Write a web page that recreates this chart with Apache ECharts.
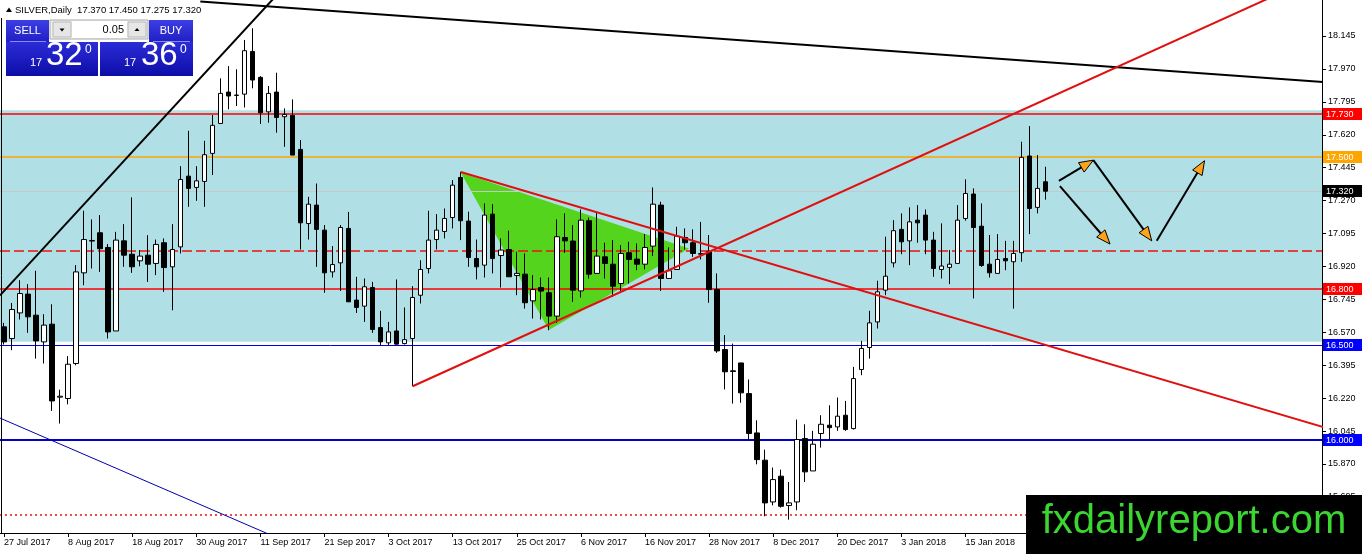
<!DOCTYPE html>
<html><head><meta charset="utf-8">
<script src="https://cdn.jsdelivr.net/npm/echarts@6/dist/echarts.min.js"></script>
<style>html,body{margin:0;padding:0;background:#fff;}#c{width:1362px;height:554px;}</style>
</head><body><div id="c"></div>
<script>
// ---- data ----
const opens  = [16.599,16.537,16.673,16.773,16.661,16.519,16.613,16.225,16.218,16.404,16.886,17.055,17.099,17.021,16.577,17.056,16.985,16.950,16.980,16.936,17.046,16.918,17.024,17.400,17.340,17.372,17.521,17.680,17.847,17.829,17.836,18.063,17.925,17.742,17.847,17.716,17.723,17.542,17.148,17.246,17.113,16.891,16.939,17.122,16.741,16.709,16.808,16.595,16.514,16.577,16.510,16.537,16.767,16.909,17.063,17.106,17.180,17.393,17.161,16.962,16.927,17.198,16.978,17.010,16.872,16.879,16.737,16.808,16.780,16.656,17.074,17.055,16.790,17.163,16.883,16.971,16.932,16.829,16.993,16.959,16.932,17.028,17.246,16.856,16.904,17.074,17.046,16.985,16.998,16.797,16.478,16.365,16.407,16.244,16.035,15.890,15.668,15.805,15.649,15.668,16.005,15.833,16.032,16.076,16.067,16.129,16.058,16.372,16.489,16.625,16.794,16.939,17.117,17.056,17.166,17.193,17.060,16.904,16.915,16.936,17.175,17.305,17.134,16.932,16.883,16.962,16.945,16.993,17.507,17.234,17.370];
const highs  = [16.620,16.726,16.847,16.826,16.897,16.666,16.719,16.265,16.443,16.927,17.216,17.170,17.193,17.039,17.104,17.145,17.287,17.007,17.086,17.063,17.069,17.145,17.453,17.641,17.453,17.588,17.725,17.920,17.985,17.968,18.124,18.186,17.932,17.879,17.950,17.760,17.808,17.592,17.290,17.361,17.140,17.028,17.140,17.210,16.865,16.856,16.838,16.684,16.625,16.851,16.702,16.815,16.953,17.216,17.198,17.228,17.379,17.423,17.211,17.063,17.255,17.251,17.069,17.110,16.998,16.989,16.874,16.861,16.861,17.170,17.202,17.140,17.223,17.180,17.205,17.046,17.060,17.033,17.051,17.042,17.092,17.340,17.264,17.021,17.131,17.122,17.117,17.157,17.087,16.883,16.555,16.510,16.407,16.319,16.102,15.946,15.851,15.840,15.774,16.106,16.081,16.046,16.129,16.182,16.223,16.205,16.386,16.524,16.684,16.844,17.078,17.166,17.202,17.234,17.246,17.223,17.104,17.149,17.007,17.246,17.383,17.335,17.255,17.087,17.092,17.056,17.056,17.583,17.666,17.512,17.450];
const lows   = [16.505,16.475,16.638,16.567,16.430,16.404,16.152,16.085,16.187,16.395,16.820,16.909,16.891,16.537,16.577,16.918,16.886,16.921,16.838,16.874,16.785,16.687,16.989,17.237,17.269,17.237,17.406,17.680,17.755,17.773,17.765,17.867,17.677,17.684,17.631,17.556,17.512,17.010,17.063,16.918,16.780,16.861,16.790,16.732,16.673,16.625,16.567,16.501,16.501,16.505,16.505,16.283,16.723,16.883,17.010,17.069,17.122,17.060,16.918,16.851,16.861,16.883,16.808,16.865,16.767,16.696,16.643,16.638,16.581,16.620,16.992,16.732,16.755,16.856,16.883,16.856,16.758,16.785,16.829,16.900,16.904,16.975,16.790,16.856,16.904,17.010,16.971,16.957,16.727,16.461,16.266,16.191,16.195,15.995,15.868,15.592,15.650,15.638,15.574,15.624,15.774,15.833,15.957,15.999,16.046,16.046,16.053,16.342,16.430,16.590,16.767,16.915,16.985,16.927,17.046,16.985,16.865,16.856,16.826,16.936,17.163,16.750,16.918,16.861,16.883,16.900,16.696,16.945,17.092,17.202,17.275];
const closes = [16.519,16.691,16.776,16.652,16.524,16.608,16.205,16.230,16.400,16.891,17.063,17.058,17.014,16.572,17.060,16.980,16.918,16.975,16.932,17.037,16.914,17.010,17.382,17.335,17.375,17.514,17.670,17.840,17.826,17.831,18.067,17.911,17.737,17.840,17.712,17.728,17.512,17.152,17.251,17.117,16.886,16.930,17.127,16.732,16.702,16.812,16.585,16.519,16.572,16.507,16.531,16.755,16.904,17.060,17.113,17.175,17.352,17.163,16.968,16.918,17.193,16.962,17.007,16.865,16.883,16.727,16.797,16.789,16.656,17.078,17.056,16.794,17.166,16.879,16.975,16.936,16.815,16.989,16.957,16.932,17.021,17.251,16.856,16.897,17.081,17.046,16.989,16.988,16.797,16.471,16.360,16.362,16.248,16.032,15.893,15.663,15.787,15.645,15.663,16.000,15.828,15.975,16.081,16.063,16.124,16.053,16.324,16.484,16.620,16.785,16.868,17.110,17.051,17.157,17.152,17.060,16.909,16.922,16.932,17.166,17.308,17.127,16.925,16.886,16.957,16.950,16.989,17.500,17.228,17.335,17.320];

const priceTicks = [15.695,15.870,16.045,16.220,16.395,16.570,16.745,16.920,17.095,17.270,17.445,17.620,17.795,17.970,18.145];
const levelPrices = [17.730, 17.500, 17.320, 17.000, 16.800, 16.500, 16.000, 15.600];
const zoneTop = 17.75, zoneBottom = 16.52;
const greenTriangle = [[57, 17.42], [68, 16.582], [85.5, 17.016]];
const trendBlackLeft = [[-0.5, 16.766], [34.5, 18.384]];
const trendBlackTop = [[24.5, 18.328], [164.75, 17.900]];
const trendBlueLow = [[-0.5, 16.114], [34.5, 15.470]];
const trendRedUp = [[51, 16.283], [160, 18.387]];
const trendRedDown = [[57, 17.422], [164.75, 16.065]];
const arrows = [
  [131.66, 17.375, 135.96, 17.485],
  [135.96, 17.485, 143.25, 17.056],
  [131.79, 17.347, 138.04, 17.039],
  [143.875, 17.056, 149.84, 17.482]
];
const headerText = 'SILVER,Daily  17.370 17.450 17.275 17.320';

// ---- styles for the level lines (same order as levelPrices) ----
const levelStyles = [
  {stroke: '#ff0000', width: 1.5, dash: null, tag: '#ff0000'},
  {stroke: '#ffa500', width: 1.5, dash: null, tag: '#ffa500'},
  {stroke: '#c8c8c8', width: 1, dash: null, tag: '#000000'},
  {stroke: '#ee1111', width: 1.5, dash: [10, 4], tag: null},
  {stroke: '#ff0000', width: 1.5, dash: null, tag: '#ff0000'},
  {stroke: '#0000ee', width: 1, dash: null, tag: '#0000ff'},
  {stroke: '#0000cc', width: 2, dash: null, tag: '#0000ff'},
  {stroke: '#ee1111', width: 1.5, dash: [2, 3], tag: null}
];

// ---- categories (trading days) ----
const monthNames = ['Jan','Feb','Mar','Apr','May','Jun','Jul','Aug','Sep','Oct','Nov','Dec'];
const holidays = ['2017-12-25', '2018-01-01'];
const SLOTS = 165;
const categories = [];
let d = new Date(Date.UTC(2017, 6, 27));
while (categories.length < SLOTS) {
  const wd = d.getUTCDay();
  const iso = d.toISOString().slice(0, 10);
  if (wd !== 0 && wd !== 6 && holidays.indexOf(iso) < 0) {
    categories.push(d.getUTCDate() + ' ' + monthNames[d.getUTCMonth()] + ' ' + d.getUTCFullYear());
  }
  d = new Date(d.getTime() + 86400000);
}
const candleData = opens.map((o, i) => [o, closes[i], lows[i], highs[i]]);

const FONT = '"Liberation Sans", Arial, sans-serif';
const chart = echarts.init(document.getElementById('c'), null, {renderer: 'canvas'});

const option = {
  animation: false,
  backgroundColor: '#ffffff',
  grid: {left: 0, right: 40, top: 0, bottom: 21, containLabel: false},
  xAxis: [
    {
      type: 'category', data: categories, boundaryGap: true,
      axisLine: {show: true, onZero: false, lineStyle: {color: '#000', width: 1}},
      axisTick: {show: true, alignWithLabel: true, interval: 7, length: 4, lineStyle: {color: '#000'}},
      axisLabel: {interval: 7, align: 'left', margin: 5, fontSize: 9, fontFamily: FONT, color: '#000'},
      splitLine: {show: false}
    },
    {
      type: 'value', min: -0.5, max: SLOTS - 0.5, show: false, gridIndex: 0,
      axisLine: {show: false, onZero: false}, splitLine: {show: false}
    }
  ],
  yAxis: {
    type: 'value', position: 'right', min: 15.503, max: 18.3364,
    axisLine: {show: true, onZero: false, lineStyle: {color: '#000', width: 1}},
    axisTick: {show: true, inside: false, length: 4, customValues: priceTicks, lineStyle: {color: '#000'}},
    axisLabel: {show: true, customValues: priceTicks, margin: 6, fontSize: 9, fontFamily: FONT, color: '#000',
      formatter: v => Number(v).toFixed(3)},
    splitLine: {show: false}
  },
  series: [
    {
      type: 'custom', name: 'zone', xAxisIndex: 1, z: 1, silent: true,
      data: [[-0.5, zoneTop]],
      renderItem: function (params, api) {
        const p1 = api.coord([-0.5, zoneTop]);
        const p2 = api.coord([SLOTS - 0.5, zoneBottom]);
        return {type: 'rect', shape: {x: p1[0], y: p1[1], width: p2[0] - p1[0], height: p2[1] - p1[1]},
          style: {fill: '#b0e0e6'}};
      }
    },
    {
      type: 'custom', name: 'triangle', xAxisIndex: 1, z: 2, silent: true,
      data: [greenTriangle[0]],
      renderItem: function (params, api) {
        const pts = greenTriangle.map(p => api.coord(p));
        return {type: 'polygon', shape: {points: pts}, style: {fill: '#55d41e'}};
      }
    },
    {
      type: 'custom', name: 'levels', xAxisIndex: 1, z: 3, silent: true,
      data: levelPrices.map(p => [0, p]), encode: {x: 0, y: 1},
      renderItem: function (params, api) {
        const i = params.dataIndex;
        const st = levelStyles[i];
        const price = levelPrices[i];
        const pl = api.coord([-0.5, price]);
        const pr = api.coord([SLOTS - 0.5, price]);
        const yy = st.width === 1 ? Math.round(pl[1]) + 0.5 : Math.round(pl[1]);
        const children = [{
          type: 'line', shape: {x1: pl[0], y1: yy, x2: pr[0], y2: yy},
          style: {stroke: st.stroke, lineWidth: st.width, lineDash: st.dash || null}
        }];
        if (st.tag) {
          children.push({type: 'rect', shape: {x: pr[0] + 1, y: Math.round(pl[1]) - 6, width: 40, height: 12}, style: {fill: st.tag}});
          children.push({type: 'text', x: pr[0] + 4, y: Math.round(pl[1]) + 0.5,
            style: {text: price.toFixed(3), fill: '#ffffff', fontSize: 9, fontFamily: FONT, verticalAlign: 'middle', align: 'left'}});
        }
        return {type: 'group', children: children};
      }
    },
    {
      type: 'candlestick', name: 'SILVER', xAxisIndex: 0, z: 5, silent: true,
      data: candleData, barWidth: 5,
      itemStyle: {color: '#ffffff', color0: '#000000', borderColor: '#000000', borderColor0: '#000000', borderWidth: 1}
    },
    {type: 'line', xAxisIndex: 1, z: 6, silent: true, symbol: 'none', data: trendBlackLeft,
      lineStyle: {color: '#000', width: 2}},
    {type: 'line', xAxisIndex: 1, z: 6, silent: true, symbol: 'none', data: trendBlackTop,
      lineStyle: {color: '#000', width: 2}},
    {type: 'line', xAxisIndex: 1, z: 6, silent: true, symbol: 'none', data: trendBlueLow,
      lineStyle: {color: '#0000aa', width: 1}},
    {type: 'line', xAxisIndex: 1, z: 6, silent: true, symbol: 'none', data: trendRedUp,
      lineStyle: {color: '#e01010', width: 2}},
    {type: 'line', xAxisIndex: 1, z: 6, silent: true, symbol: 'none', data: trendRedDown,
      lineStyle: {color: '#e01010', width: 2}},
    {
      type: 'custom', name: 'arrows', xAxisIndex: 1, z: 7, silent: true,
      data: arrows, encode: {x: 0, y: 1},
      renderItem: function (params, api) {
        const a = arrows[params.dataIndex];
        const p1 = api.coord([a[0], a[1]]), p2 = api.coord([a[2], a[3]]);
        const dx = p2[0] - p1[0], dy = p2[1] - p1[1], L = Math.hypot(dx, dy);
        const ux = dx / L, uy = dy / L, hl = 14, hw = 5.5;
        const bx = p2[0] - ux * hl, by = p2[1] - uy * hl;
        return {type: 'group', children: [
          {type: 'line', shape: {x1: p1[0], y1: p1[1], x2: bx + ux * 3, y2: by + uy * 3}, style: {stroke: '#000', lineWidth: 2}},
          {type: 'polygon', shape: {points: [[p2[0], p2[1]], [bx - uy * hw, by + ux * hw], [bx + uy * hw, by - ux * hw]]},
            style: {fill: '#ffa31a', stroke: '#000', lineWidth: 1}}
        ]};
      }
    }
  ],
  graphic: [
    // left border
    {type: 'line', z: 50, shape: {x1: 1.5, y1: 18, x2: 1.5, y2: 533}, style: {stroke: '#000', lineWidth: 1}},
    // header
    {type: 'polygon', z: 60, shape: {points: [[6, 12], [12, 12], [9, 7.5]]}, style: {fill: '#000'}},
    {type: 'text', z: 60, x: 15, y: 10, style: {text: headerText, fill: '#000', fontSize: 9.5, fontFamily: FONT, verticalAlign: 'middle'}},
    // SELL button
    {type: 'rect', z: 60, shape: {x: 6, y: 20, width: 43, height: 22},
      style: {fill: {type: 'linear', x: 0, y: 0, x2: 0, y2: 1, colorStops: [{offset: 0, color: '#3d3de6'}, {offset: 1, color: '#1f1fc4'}]}}},
    {type: 'text', z: 61, x: 27.5, y: 30.5, style: {text: 'SELL', fill: '#fff', fontSize: 11, fontFamily: FONT, align: 'center', verticalAlign: 'middle'}},
    {type: 'line', z: 61, shape: {x1: 10, y1: 41.5, x2: 46, y2: 41.5}, style: {stroke: '#8a8af0', lineWidth: 1}},
    // BUY button
    {type: 'rect', z: 60, shape: {x: 149, y: 20, width: 44, height: 22},
      style: {fill: {type: 'linear', x: 0, y: 0, x2: 0, y2: 1, colorStops: [{offset: 0, color: '#3d3de6'}, {offset: 1, color: '#1f1fc4'}]}}},
    {type: 'text', z: 61, x: 171, y: 30.5, style: {text: 'BUY', fill: '#fff', fontSize: 11, fontFamily: FONT, align: 'center', verticalAlign: 'middle'}},
    {type: 'line', z: 61, shape: {x1: 153, y1: 41.5, x2: 190, y2: 41.5}, style: {stroke: '#8a8af0', lineWidth: 1}},
    // spinner
    {type: 'rect', z: 60, shape: {x: 50, y: 20, width: 98, height: 19}, style: {fill: '#f0f0f0', stroke: '#a8a8a8', lineWidth: 1}},
    {type: 'rect', z: 61, shape: {x: 53, y: 22, width: 18, height: 15}, style: {fill: '#e6e6e6', stroke: '#b8b8b8', lineWidth: 1}},
    {type: 'polygon', z: 62, shape: {points: [[59.5, 28.5], [64.5, 28.5], [62, 31.5]]}, style: {fill: '#000'}},
    {type: 'rect', z: 61, shape: {x: 72, y: 21, width: 55, height: 17}, style: {fill: '#ffffff'}},
    {type: 'text', z: 62, x: 124, y: 30, style: {text: '0.05', fill: '#000', fontSize: 11, fontFamily: FONT, align: 'right', verticalAlign: 'middle'}},
    {type: 'rect', z: 61, shape: {x: 128, y: 22, width: 18, height: 15}, style: {fill: '#e6e6e6', stroke: '#b8b8b8', lineWidth: 1}},
    {type: 'polygon', z: 62, shape: {points: [[134.5, 31], [139.5, 31], [137, 28]]}, style: {fill: '#000'}},
    // price boxes
    {type: 'rect', z: 60, shape: {x: 6, y: 42, width: 92, height: 34},
      style: {fill: {type: 'linear', x: 0, y: 0, x2: 0, y2: 1, colorStops: [{offset: 0, color: '#2c2cd8'}, {offset: 1, color: '#0d0da8'}]}}},
    {type: 'rect', z: 60, shape: {x: 100, y: 42, width: 93, height: 34},
      style: {fill: {type: 'linear', x: 0, y: 0, x2: 0, y2: 1, colorStops: [{offset: 0, color: '#2c2cd8'}, {offset: 1, color: '#0d0da8'}]}}},
    {type: 'text', z: 61, x: 30, y: 68, style: {text: '17', fill: '#fff', fontSize: 11, fontFamily: FONT, verticalAlign: 'bottom'}},
    {type: 'text', z: 61, x: 46, y: 72, style: {text: '32', fill: '#fff', fontSize: 33, fontFamily: FONT, verticalAlign: 'bottom'}},
    {type: 'text', z: 61, x: 85, y: 44, style: {text: '0', fill: '#fff', fontSize: 12, fontFamily: FONT, verticalAlign: 'top'}},
    {type: 'text', z: 61, x: 124, y: 68, style: {text: '17', fill: '#fff', fontSize: 11, fontFamily: FONT, verticalAlign: 'bottom'}},
    {type: 'text', z: 61, x: 141, y: 72, style: {text: '36', fill: '#fff', fontSize: 33, fontFamily: FONT, verticalAlign: 'bottom'}},
    {type: 'text', z: 61, x: 180, y: 44, style: {text: '0', fill: '#fff', fontSize: 12, fontFamily: FONT, verticalAlign: 'top'}},
    // watermark box
    {type: 'rect', z: 100, shape: {x: 1026, y: 495, width: 336, height: 59}, style: {fill: '#000'}},
    {type: 'text', z: 101, x: 1194, y: 522, style: {text: 'fxdailyreport.com', fill: '#3cd632', fontSize: 40, fontFamily: FONT, align: 'center', verticalAlign: 'middle'}}
  ]
};
chart.setOption(option);
</script>
</body></html>
